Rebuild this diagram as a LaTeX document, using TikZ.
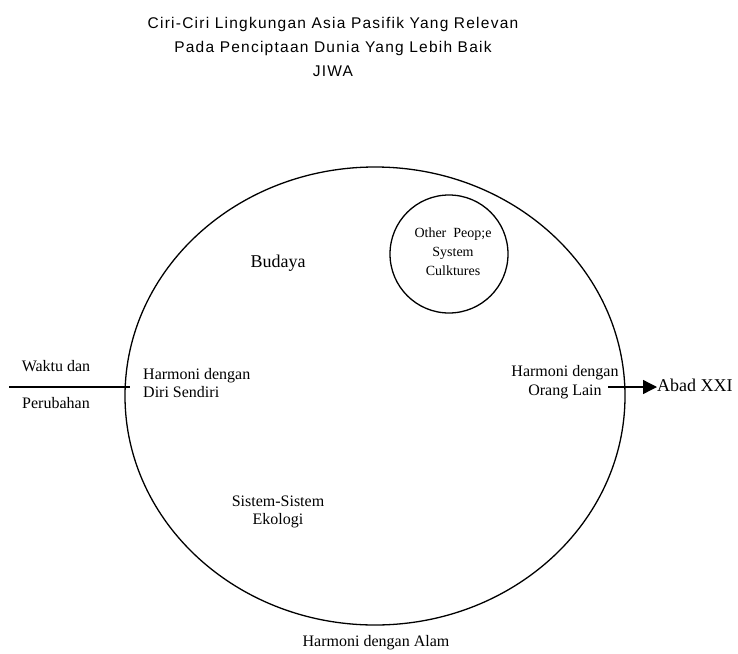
\documentclass[tikz,border=0pt]{standalone}
\usepackage{fontspec}
\setmainfont{Liberation Serif}
\newfontfamily\titlefont[LetterSpace=8]{Liberation Sans}
\usetikzlibrary{arrows.meta,shapes.geometric}
\begin{document}
\begin{tikzpicture}[x=1pt,y=-1pt,
  lbl/.style={inner sep=0pt,font=\fontsize{16}{18.5}\selectfont},
  biglbl/.style={inner sep=0pt,font=\fontsize{18}{21}\selectfont},
  smalllbl/.style={inner sep=0pt,font=\fontsize{14}{19}\selectfont},
  conn/.style={line width=1.3pt},
  shapeline/.style={draw,line width=1.3pt}]
\useasboundingbox (0,0) rectangle (738,653);
% title
\node[inner sep=0pt,align=center,font=\titlefont\fontsize{15.5}{24}\selectfont] (title) at (333,47)
  {Ciri-Ciri Lingkungan Asia Pasifik Yang Relevan\\Pada Penciptaan Dunia Yang Lebih Baik\\JIWA};
% main ellipse
\node[shapeline,ellipse,minimum width=500,minimum height=458,inner sep=0pt] (big) at (375,396) {};
% small circle
\node[shapeline,circle,minimum size=118,inner sep=0pt] (small) at (449,254) {};
\node[smalllbl,align=center] (other) at (453,252) {Other\ \ Peop;e\\System\\Culktures};
% labels
\node[biglbl] (budaya) at (278,263) {Budaya};
\node[lbl,align=left,anchor=west] (diri) at (143,383) {Harmoni dengan\\Diri Sendiri};
\node[lbl,align=center] (orang) at (565,382) {Harmoni dengan\\Orang Lain};
\node[lbl,align=center] (ekologi) at (278,512) {Sistem-Sistem\\Ekologi};
\node[lbl] (alam) at (376,643) {Harmoni dengan Alam};
\node[lbl] (waktu) at (56,366) {Waktu dan};
\node[lbl] (perubahan) at (56,403) {Perubahan};
\node[biglbl,anchor=west] (abad) at (657,385) {Abad XXI};
% connectors
\coordinate (lstart) at (9,387);
\coordinate (lend) at (130,387);
\draw[conn] (lstart) -- (lend);
\coordinate (astart) at (608,387);
\draw[conn,-{Triangle[length=14pt,width=14pt]}] (astart) -- (abad.west |- astart);
\end{tikzpicture}
\end{document}
